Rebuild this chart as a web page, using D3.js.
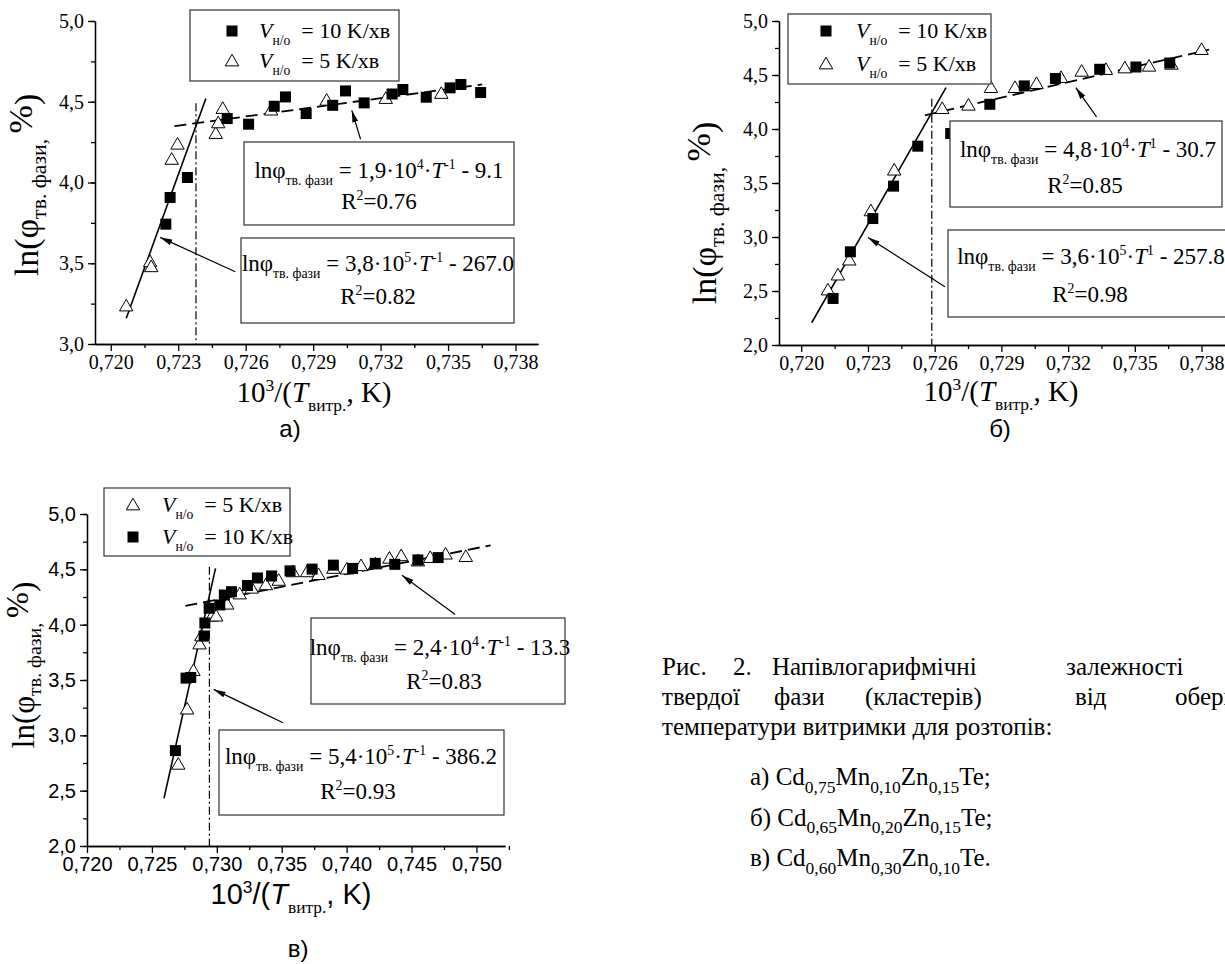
<!DOCTYPE html>
<html>
<head>
<meta charset="utf-8">
<script src="https://cdn.jsdelivr.net/npm/d3@7"></script>
<style>
  body { margin: 0; background: #fff; }
  svg text { white-space: pre; }
</style>
</head>
<body>
<script>
const W = 1225, H = 964;

// ---- panel a: Cd0,75Mn0,10Zn0,15Te
const aSqX = [0.72245, 0.72264, 0.72341, 0.72518, 0.72613, 0.72727, 0.72777, 0.72869, 0.72987, 0.73044, 0.73127, 0.73251, 0.73299, 0.73403, 0.73509, 0.73557, 0.73645];
const aSqY = [3.742, 3.907, 4.031, 4.396, 4.361, 4.472, 4.530, 4.427, 4.478, 4.567, 4.493, 4.548, 4.576, 4.528, 4.586, 4.607, 4.557];
const aTriX = [0.72069, 0.72175, 0.72180, 0.72271, 0.72297, 0.72467, 0.72478, 0.72498, 0.72713, 0.72960, 0.73223, 0.73470];
const aTriY = [3.235, 3.509, 3.478, 4.143, 4.237, 4.303, 4.369, 4.458, 4.448, 4.509, 4.520, 4.551];
const aSteepX = [0.72069, 0.72423], aSteepY = [3.159, 4.52];
const aFlatX = [0.72283, 0.73652], aFlatY = [4.349, 4.607];
const aCutX = 0.72379, aCutTop = 4.49;
const aEq = [["1,9", "4", "-1", "9.1", "0.76"], ["3,8", "5", "-1", "267.0", "0.82"]];

// ---- panel б: Cd0,65Mn0,20Zn0,15Te
const bSqX = [0.72143, 0.72221, 0.72322, 0.72415, 0.72524, 0.72672, 0.72848, 0.73003, 0.73143, 0.73342, 0.73505, 0.73657];
const bSqY = [2.431, 2.863, 3.171, 3.471, 3.841, 3.958, 4.229, 4.399, 4.467, 4.553, 4.574, 4.611];
const bTriX = [0.72120, 0.72165, 0.72216, 0.72313, 0.72418, 0.72634, 0.72752, 0.72853, 0.72961, 0.73058, 0.73168, 0.73261, 0.73370, 0.73455, 0.73564, 0.73665, 0.73800];
const bTriY = [2.509, 2.647, 2.786, 3.242, 3.619, 4.189, 4.220, 4.383, 4.383, 4.420, 4.476, 4.534, 4.550, 4.565, 4.581, 4.599, 4.735];
const bSteepX = [0.72047, 0.72651], bSteepY = [2.206, 4.383];
const bFlatX = [0.72556, 0.73834], bFlatY = [4.127, 4.735];
const bCutX = 0.72587, bCutTop = 4.28;
const bEq = [["4,8", "4", "1", "30.7", "0.85"], ["3,6", "5", "1", "257.8", "0.98"]];

// ---- panel в: Cd0,60Mn0,30Zn0,10Te
const cSqX = [0.72681, 0.72763, 0.72799, 0.72902, 0.72908, 0.72941, 0.73023, 0.73058, 0.73113, 0.73236, 0.73313, 0.73422, 0.73564, 0.73734, 0.73898, 0.74046, 0.74221, 0.74371, 0.74549, 0.74705];
const cSqY = [2.862, 3.517, 3.523, 3.898, 4.015, 4.148, 4.178, 4.268, 4.298, 4.354, 4.422, 4.440, 4.486, 4.502, 4.538, 4.508, 4.554, 4.545, 4.585, 4.606];
const cTriX = [0.72703, 0.72771, 0.72820, 0.72867, 0.72881, 0.72963, 0.72995, 0.73080, 0.73176, 0.73269, 0.73378, 0.73477, 0.73586, 0.73696, 0.73783, 0.73898, 0.74002, 0.74111, 0.74221, 0.74330, 0.74420, 0.74549, 0.74644, 0.74762, 0.74918];
const cTriY = [2.738, 3.237, 3.585, 3.825, 3.898, 4.077, 4.077, 4.185, 4.277, 4.329, 4.360, 4.400, 4.477, 4.477, 4.452, 4.508, 4.502, 4.532, 4.548, 4.600, 4.622, 4.575, 4.606, 4.637, 4.615];
const cSteepX = [0.72593, 0.72990], cSteepY = [2.431, 4.508];
const cFlatX = [0.72758, 0.75109], cFlatY = [4.169, 4.717];
const cCutX = 0.72943, cCutTop = 4.523;
const cEq = [["2,4", "4", "-1", "13.3", "0.83"], ["5,4", "5", "-1", "386.2", "0.93"]];

// tick values
const xTicksAB = [0.720, 0.723, 0.726, 0.729, 0.732, 0.735, 0.738];
const xTicksC = [0.720, 0.725, 0.730, 0.735, 0.740, 0.745, 0.750];
const yTicksA = [3.0, 3.5, 4.0, 4.5, 5.0];
const yTicksBC = [2.0, 2.5, 3.0, 3.5, 4.0, 4.5, 5.0];

const legendLabels = ["10", "5"];
const panelLetters = ["а)", "б)", "в)"];

const SERIF = "'Liberation Serif', 'Times New Roman', serif";
const SANS = "'Liberation Sans', Arial, sans-serif";

let svg = d3.select("body").append("svg").attr("width", W).attr("height", H);
svg.append("rect").attr("width", W).attr("height", H).attr("fill", "#fff");

svg.append("defs").append("marker")
  .attr("id", "arr").attr("viewBox", "0 0 12 6").attr("refX", 12).attr("refY", 3)
  .attr("markerWidth", 12).attr("markerHeight", 6).attr("markerUnits", "userSpaceOnUse")
  .attr("orient", "auto")
  .append("path").attr("d", "M0,0 L12,3 L0,6 Z").attr("fill", "#000");

//text with sub/superscripts
function rich(sel, segs, size) {
  let cur = 0;
  segs.forEach(function (s) {
    let shift = s.sub ? size * (s.down || 0.3) : s.sup ? -size * (s.up || 0.38) : 0;
    let fs = s.sub || s.sup ? size * (s.k || 0.6) : size;
    let ts = sel.append("tspan").attr("dy", shift - cur).attr("font-size", fs).text(s.t);
    if (s.it) ts.attr("font-style", "italic");
    if (s.font) ts.attr("font-family", s.font);
    cur = shift;
  });
}

function eqSegs(e) {
  return [
    { t: "lnφ" },
    { t: "тв. фази", sub: true },
    { t: " = " + e[0] + "·10" },
    { t: e[1], sup: true },
    { t: "·" },
    { t: "T", it: true },
    { t: e[2], sup: true },
    { t: " - " + e[3] },
  ];
}

function range(a, b, step) {
  let out = [];
  for (let v = a; v <= b + step / 10; v += step) out.push(+v.toFixed(5));
  return out;
}

function drawPanel(p) {
  let x = d3.scaleLinear().domain(p.xDomain).range([p.left, p.right]);
  let y = d3.scaleLinear().domain(p.yDomain).range([p.bottom, p.top]);
  let g = svg.append("g");
  let tickFont = p.sans ? SANS : SERIF;

  //minor ticks
  g.append("g").attr("transform", "translate(0," + p.bottom + ")")
    .call(d3.axisBottom(x).tickValues(p.xMinor).tickSize(4).tickSizeOuter(0).tickFormat(""));
  g.append("g").attr("transform", "translate(" + p.left + ",0)")
    .call(d3.axisLeft(y).tickValues(range(p.yDomain[0], p.yDomain[1], 0.25)).tickSize(4).tickSizeOuter(0).tickFormat(""));

  //major ticks
  let xa = g.append("g").attr("transform", "translate(0," + p.bottom + ")")
    .call(d3.axisBottom(x).tickValues(p.xTicks).tickSize(7).tickSizeOuter(0).tickPadding(4)
      .tickFormat(function (d) { return d.toFixed(3).replace(".", ","); }));
  let ya = g.append("g").attr("transform", "translate(" + p.left + ",0)")
    .call(d3.axisLeft(y).tickValues(p.yTicks).tickSize(7).tickSizeOuter(0).tickPadding(4)
      .tickFormat(function (d) { return d.toFixed(1).replace(".", ","); }));
  g.selectAll(".domain, .tick line").attr("stroke", "#000").attr("stroke-width", 1.3);
  [xa, ya].forEach(function (a) {
    a.attr("font-family", tickFont).attr("font-size", p.tickSize);
    a.selectAll("text").attr("fill", "#000");
  });

  //fit lines
  let line = d3.line().x(function (d) { return x(d[0]); }).y(function (d) { return y(d[1]); });
  g.append("path").datum(d3.zip(p.steepX, p.steepY)).attr("d", line)
    .attr("stroke", "#000").attr("stroke-width", 1.6).attr("fill", "none");
  g.append("path").datum(d3.zip(p.flatX, p.flatY)).attr("d", line)
    .attr("stroke", "#000").attr("stroke-width", 1.8).attr("fill", "none").attr("stroke-dasharray", "12,6");
  g.append("line")
    .attr("x1", x(p.cutX)).attr("x2", x(p.cutX))
    .attr("y1", y(p.cutTop)).attr("y2", y(p.yDomain[0]))
    .attr("stroke", "#000").attr("stroke-width", 1.2).attr("stroke-dasharray", "8,3,2,3");

  //points
  let tri = d3.symbol().type(d3.symbolTriangle).size(78);
  g.selectAll(".tri").data(d3.zip(p.triX, p.triY)).enter().append("path")
    .attr("d", tri)
    .attr("transform", function (d) { return "translate(" + x(d[0]) + "," + (y(d[1]) + 1) + ")"; })
    .attr("fill", "#fff").attr("stroke", "#000").attr("stroke-width", 1);
  g.selectAll(".sq").data(d3.zip(p.sqX, p.sqY)).enter().append("rect")
    .attr("x", function (d) { return x(d[0]) - 5.5; })
    .attr("y", function (d) { return y(d[1]) - 5.5; })
    .attr("width", 11).attr("height", 11).attr("fill", "#000");

  //arrows
  p.arrows.forEach(function (a) {
    g.append("line")
      .attr("x1", x(a[0])).attr("y1", y(a[1])).attr("x2", x(a[2])).attr("y2", y(a[3]))
      .attr("stroke", "#000").attr("stroke-width", 1.2).attr("marker-end", "url(#arr)");
  });

  //equation boxes
  p.boxes.forEach(function (b, i) {
    let e = p.eq[i];
    g.append("rect").attr("x", b.x).attr("y", b.y).attr("width", b.w).attr("height", b.h)
      .attr("fill", "#fff").attr("stroke", "#333").attr("stroke-width", 1.2);
    let t1 = g.append("text").attr("x", b.cx).attr("y", b.y + b.l1)
      .attr("text-anchor", "middle").attr("font-family", SERIF).attr("font-size", 23).attr("fill", "#000");
    rich(t1, eqSegs(e), 23);
    let t2 = g.append("text").attr("x", b.cx2).attr("y", b.y + b.l2)
      .attr("text-anchor", "middle").attr("font-family", SERIF).attr("font-size", 23).attr("fill", "#000");
    rich(t2, [{ t: "R" }, { t: "2", sup: true }, { t: "=" + e[4] }], 23);
  });

  //legend
  let L = p.legend;
  g.append("rect").attr("x", L.x).attr("y", L.y).attr("width", L.w).attr("height", L.h)
    .attr("fill", "#fff").attr("stroke", "#333").attr("stroke-width", 1.2);
  L.order.forEach(function (k, i) {
    let cy = L.y + L.r0 + i * L.dr;
    let mx = L.x + L.mx;
    if (k === "sq") {
      g.append("rect").attr("x", mx - 5.5).attr("y", cy - 5.5).attr("width", 11).attr("height", 11).attr("fill", "#000");
    } else {
      g.append("path").attr("d", tri).attr("transform", "translate(" + mx + "," + (cy + 1) + ")")
        .attr("fill", "#fff").attr("stroke", "#000");
    }
    let t = g.append("text").attr("x", L.x + L.tx).attr("y", cy + 7)
      .attr("font-family", SERIF).attr("font-size", 22).attr("fill", "#000");
    rich(t, [
      { t: "V", it: true },
      { t: "н/о", sub: true, k: 0.62 },
      { t: "  = " + (k === "sq" ? legendLabels[0] : legendLabels[1]) + " K/хв" },
    ], 22);
  });

  //axis titles
  let xt = g.append("text").attr("x", p.xTitle[0]).attr("y", p.xTitle[1])
    .attr("text-anchor", "middle").attr("font-family", tickFont).attr("font-size", 29).attr("fill", "#000");
  rich(xt, [
    { t: "10" }, { t: "3", sup: true }, { t: "/(" }, { t: "T", it: true },
    { t: "витр.", sub: true, font: SERIF }, { t: ", K)" },
  ], 29);
  let ys = p.yTitleSize;
  let yt = g.append("text")
    .attr("transform", "translate(" + p.yTitle[0] + "," + p.yTitle[1] + ") rotate(-90)")
    .attr("text-anchor", "middle").attr("font-family", SERIF).attr("font-size", ys).attr("fill", "#000");
  rich(yt, [
    { t: "ln(φ" }, { t: "тв. фази, ", sub: true, k: 0.64, down: 0.24 }, { t: "%", sup: true, k: 1, up: 0.18 }, { t: ")" },
  ], ys);

  svg.append("text").attr("x", p.letter[0]).attr("y", p.letter[1]).attr("text-anchor", "middle")
    .attr("font-family", SANS).attr("font-size", 24).attr("fill", "#000").text(p.letterText);
}

drawPanel({
  left: 95, right: 538, top: 21, bottom: 344,
  xDomain: [0.7193, 0.7390], yDomain: [3, 5],
  xTicks: xTicksAB, xMinor: range(0.7215, 0.7375, 0.003), yTicks: yTicksA,
  tickSize: 20, sans: false,
  sqX: aSqX, sqY: aSqY, triX: aTriX, triY: aTriY,
  steepX: aSteepX, steepY: aSteepY, flatX: aFlatX, flatY: aFlatY, cutX: aCutX, cutTop: aCutTop,
  arrows: [[0.73111, 4.268, 0.73072, 4.447], [0.72554, 3.447, 0.72220, 3.660]],
  eq: aEq,
  boxes: [
    { x: 244, y: 142, w: 270, h: 83, cx: 379, cx2: 379, l1: 36, l2: 67 },
    { x: 241, y: 238, w: 273, h: 85, cx: 378, cx2: 378, l1: 33, l2: 66 },
  ],
  legend: { x: 190, y: 10, w: 209, h: 71, mx: 42, tx: 69, r0: 21, dr: 30, order: ["sq", "tri"] },
  xTitle: [314, 402], yTitle: [38, 185], yTitleSize: 34, letter: [290, 437], letterText: panelLetters[0],
});

drawPanel({
  left: 779, right: 1226, top: 21, bottom: 345,
  xDomain: [0.7190, 0.7391], yDomain: [2, 5],
  xTicks: xTicksAB, xMinor: range(0.7215, 0.7375, 0.003), yTicks: yTicksBC,
  tickSize: 20, sans: false,
  sqX: bSqX, sqY: bSqY, triX: bTriX, triY: bTriY,
  steepX: bSteepX, steepY: bSteepY, flatX: bFlatX, flatY: bFlatY, cutX: bCutX, cutTop: bCutTop,
  arrows: [[0.73328, 4.112, 0.73235, 4.383], [0.72646, 2.539, 0.72300, 2.996]],
  eq: bEq,
  boxes: [
    { x: 950, y: 121, w: 272, h: 86, cx: 1088, cx2: 1085, l1: 36, l2: 72 },
    { x: 948, y: 230, w: 280, h: 87, cx: 1091, cx2: 1090, l1: 34, l2: 72 },
  ],
  legend: { x: 788, y: 14, w: 203, h: 70, mx: 38, tx: 68, r0: 17, dr: 33, order: ["sq", "tri"] },
  xTitle: [1001, 401], yTitle: [716, 213], yTitleSize: 34, letter: [1000, 437], letterText: panelLetters[1],
});

drawPanel({
  left: 87, right: 505, top: 514, bottom: 846,
  xDomain: [0.720, 0.7522], yDomain: [2, 5],
  xTicks: xTicksC, xMinor: range(0.7225, 0.7525, 0.005), yTicks: yTicksBC,
  tickSize: 20, sans: true,
  sqX: cSqX, sqY: cSqY, triX: cTriX, triY: cTriY,
  steepX: cSteepX, steepY: cSteepY, flatX: cFlatX, flatY: cFlatY, cutX: cCutX, cutTop: cCutTop,
  arrows: [[0.74836, 4.092, 0.74426, 4.446], [0.73510, 3.114, 0.72976, 3.415]],
  eq: cEq,
  boxes: [
    { x: 311, y: 618, w: 254, h: 86, cx: 440, cx2: 444, l1: 37, l2: 71 },
    { x: 219, y: 730, w: 285, h: 85, cx: 361, cx2: 358, l1: 34, l2: 69 },
  ],
  legend: { x: 104, y: 488, w: 186, h: 68, mx: 29, tx: 58, r0: 17, dr: 32, order: ["tri", "sq"] },
  xTitle: [291, 904], yTitle: [34, 665], yTitleSize: 31, letter: [298, 957], letterText: panelLetters[2],
});

// ---- caption
const capFont = 25;
let cap = svg.append("g").attr("font-family", SERIF).attr("font-size", capFont).attr("fill", "#000");
const capLine1 = [["Рис.", 662], ["2.", 733], ["Напівлогарифмічні", 772], ["залежності", 1066]];
const capLine2 = [["твердої", 662], ["фази", 774], ["(кластерів)", 865], ["від", 1075], ["оберненої", 1175]];
capLine1.forEach(function (w) { cap.append("text").attr("x", w[1]).attr("y", 675).text(w[0]); });
capLine2.forEach(function (w) { cap.append("text").attr("x", w[1]).attr("y", 705).text(w[0]); });
cap.append("text").attr("x", 662).attr("y", 735).text("температури витримки для розтопів:");

const alloys = [
  ["а) ", ["0,75", "0,10", "0,15"], ";"],
  ["б) ", ["0,65", "0,20", "0,15"], ";"],
  ["в) ", ["0,60", "0,30", "0,10"], "."],
];
alloys.forEach(function (a, i) {
  let t = cap.append("text").attr("x", 750).attr("y", 785 + i * 40.5);
  rich(t, [
    { t: a[0] + "Cd" }, { t: a[1][0], sub: true, k: 0.7 },
    { t: "Mn" }, { t: a[1][1], sub: true, k: 0.7 },
    { t: "Zn" }, { t: a[1][2], sub: true, k: 0.7 },
    { t: "Te" + a[2] },
  ], capFont);
});
</script>
</body>
</html>
